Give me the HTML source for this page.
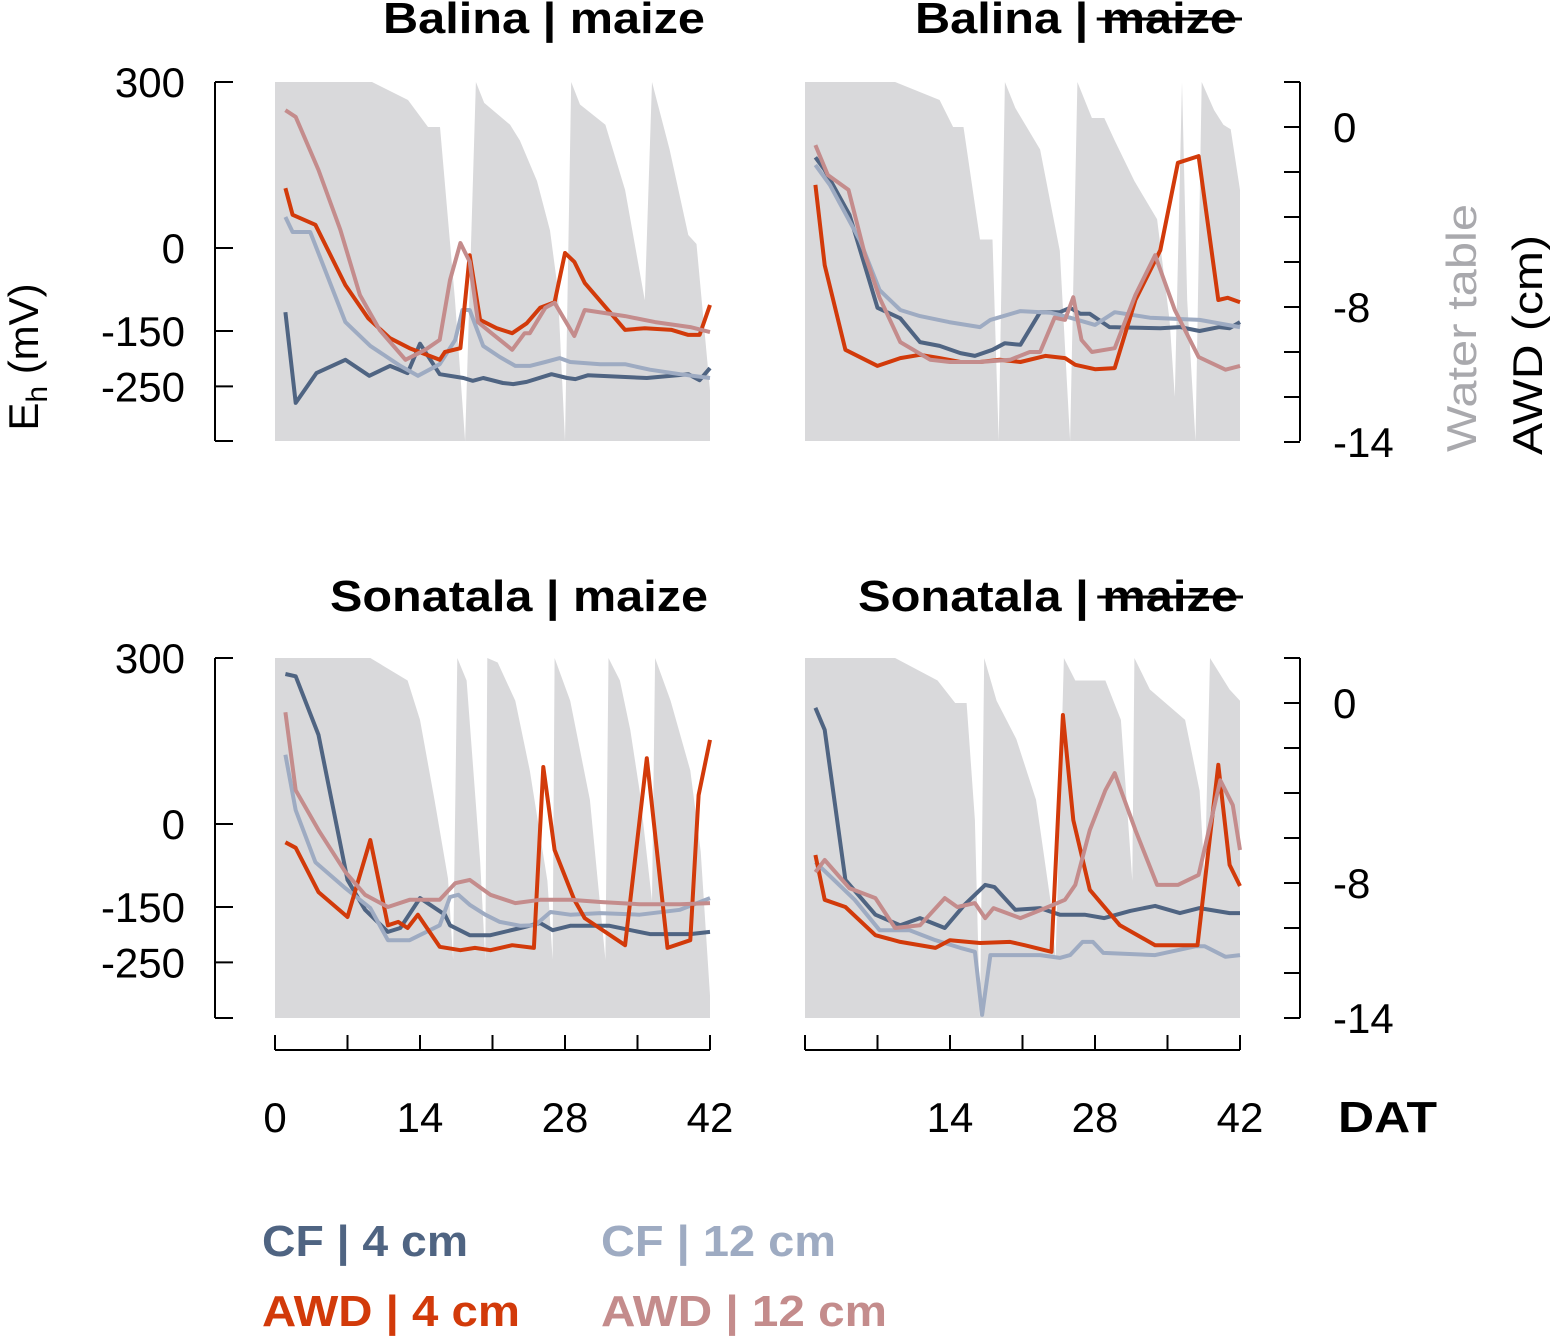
<!DOCTYPE html>
<html><head><meta charset="utf-8"><style>
html,body{margin:0;padding:0;background:#fff}
svg{display:block}
text{font-family:"Liberation Sans",Arial,sans-serif}
</style></head><body>
<svg id="c" width="1550" height="1336" viewBox="0 0 1550 1336" xmlns="http://www.w3.org/2000/svg"></svg>
<script>
// ---- data ----
const seriesNames = ["CF4","CF12","AWD4","AWD12"];
const seriesColors = {CF4:"#4f6482",CF12:"#9eabc2",AWD4:"#d23a0a",AWD12:"#c48c8c"};
const panelTitles = ["Balina | maize","Balina | maize","Sonatala | maize","Sonatala | maize"];
const yTicks = [300,0,-150,-250];
const wtTicks = [0,-8,-14];
const xTicks = [0,14,28,42];

const wtTL = [[0,2],[9.37,2],[12.84,1.2],[14.77,0],[15.93,0],[17.38,-7.7],[18.35,-14],[19.4,2],[20.2,1.07],[22.7,0.1],[23.65,-0.6],[25.3,-2.4],[26.55,-4.6],[27.3,-7.2],[28,-14],[28.6,2],[29.45,1],[31.9,0.1],[33.8,-2.8],[35.7,-7.7],[36.4,2],[38.1,-1],[39.9,-4.8],[40.7,-5.2],[42,-11.7]];
const wtTR = [[0,2],[8.7,2],[13,1.2],[14.3,0],[15.3,0],[16.9,-5],[18.1,-5],[18.7,-14],[19.3,2],[20.3,0.85],[22.7,-1],[24.6,-5.5],[25.6,-14],[26.3,2],[27.7,0.4],[28.9,0.4],[29.9,-0.6],[31.8,-2.4],[34,-4.1],[35.2,-8.6],[35.7,-12],[36.4,2],[36.9,-7.7],[37.7,-14],[38.3,2],[39.5,0.75],[40.4,0.1],[41.1,-0.1],[42,-2.8]];
const wtBL = [[0,2],[9.2,2],[12.8,1],[14,-0.75],[15.4,-4.3],[16.7,-7.8],[17.2,-11.4],[17.6,2],[18.5,1],[19.8,-7],[20.3,-11.4],[20.5,2],[21.5,1.8],[23.2,0.1],[24.6,-3],[26.3,-7.9],[26.8,-11.4],[27,2],[28.5,0.1],[30.4,-4.3],[31.9,-11.4],[32.2,2],[33.3,1],[34.3,-1.2],[35.2,-3.9],[36.4,-8.8],[36.7,2],[38.2,0.1],[40.1,-3],[41.1,-6.6],[42,-13]];
const wtBR = [[0,2],[8.7,2],[12.8,1],[14.5,0],[15.6,0],[16.4,-5.2],[16.9,-14],[17.3,2],[18.5,0.1],[20.4,-1.6],[22.3,-4.3],[23.7,-8.8],[24.2,-11.4],[25,2],[26.1,1],[29,1],[30.5,-0.75],[31.6,-7.9],[31.8,2],[33.3,0.6],[36.7,-0.75],[38.1,-3.9],[38.6,-7.9],[39.1,2],[41,0.6],[42,0.1]];

const TL_CF4 = [[1,-116],[2,-280],[4,-226],[6.8,-202],[9.1,-231],[11.1,-213],[12.8,-226],[14,-173],[15.9,-228],[18.2,-235],[19.1,-240],[20.1,-235],[22,-244],[23,-246],[24.3,-242],[26.7,-228],[28.2,-235],[29,-237],[30.2,-230],[35.9,-235],[39.9,-228],[41,-239],[42,-217]];
const TL_CF12 = [[1,56],[1.7,29],[3.4,29],[6.8,-134],[9.2,-177],[12.1,-213],[13.8,-231],[15.9,-210],[17.4,-166],[18.1,-112],[18.8,-112],[20.1,-177],[21.7,-197],[23.2,-213],[24.6,-213],[26.1,-206],[27.5,-199],[28.5,-206],[31.4,-210],[33.8,-210],[36.2,-220],[39.1,-228],[42,-235]];
const TL_AWD4 = [[1,108],[1.7,60],[3.9,42],[6.8,-67],[9,-127],[11.1,-163],[13,-181],[15.9,-202],[16.4,-188],[17.9,-181],[18.8,-13],[19.8,-130],[21.4,-145],[22.9,-154],[24.3,-136],[25.6,-108],[27,-98],[28,-9],[28.9,-25],[29.9,-63],[33.8,-148],[35.7,-145],[38.3,-148],[39.9,-157],[41,-157],[42,-103]];
const TL_AWD12 = [[1,249],[2,237],[4.2,141],[6.3,33],[8.2,-85],[10.1,-148],[12.6,-202],[14.5,-184],[15.9,-166],[16.9,-58],[17.9,9],[18.8,-25],[19.6,-134],[20.9,-154],[22.9,-184],[24.1,-154],[24.6,-154],[26.1,-108],[27,-99],[28.9,-159],[29.9,-112],[33.8,-123],[36.7,-134],[40.1,-143],[42,-152]];

const TR_CF4 = [[1,164],[1.9,141],[4.3,60],[7,-108],[9.2,-127],[11.1,-170],[13,-177],[15,-190],[16.4,-195],[18.1,-184],[19.3,-172],[20.8,-175],[22.7,-116],[24.6,-116],[25.6,-108],[26.6,-119],[27.5,-119],[29.4,-143],[34.3,-145],[36.2,-143],[38.1,-150],[40,-143],[41,-145],[42,-134]];
const TR_CF12 = [[1,150],[2.4,114],[5.3,14],[7.2,-76],[9.2,-112],[11.1,-123],[13.9,-134],[16.9,-143],[17.9,-130],[20.8,-114],[23.7,-117],[25.6,-126],[28,-139],[29.9,-116],[33.3,-126],[38.1,-130],[42,-143]];
const TR_AWD4 = [[1,114],[1.9,-31],[3.9,-184],[7,-213],[9.2,-199],[11.1,-193],[13,-199],[15,-206],[16.9,-206],[18.8,-202],[20.8,-206],[23.2,-195],[25.1,-199],[26.1,-211],[28,-219],[29.9,-217],[31.9,-94],[34.3,-4],[36,154],[38,166],[39.9,-94],[40.8,-90],[42,-98]];
const TR_AWD12 = [[1,186],[2.2,132],[4.2,105],[5.8,-13],[7.2,-90],[9.2,-170],[12.1,-202],[14,-206],[16.9,-206],[19.8,-202],[21.7,-188],[22.7,-188],[24.1,-126],[25.1,-130],[25.9,-89],[26.7,-166],[27.7,-188],[29.9,-181],[31.9,-85],[33.8,-13],[35.7,-112],[38,-197],[40.6,-220],[42,-213]];

const BL_CF4 = [[1,271],[2,267],[4.2,161],[7,-101],[8.7,-155],[10.9,-195],[12.1,-188],[14,-134],[16.4,-164],[16.9,-183],[18.8,-201],[20.8,-201],[23.7,-188],[25.6,-179],[26.8,-192],[28.5,-184],[32.3,-184],[36.2,-199],[40.1,-199],[42,-195]];
const BL_CF12 = [[1,125],[2,25],[3.9,-69],[6.8,-116],[9.2,-152],[10.9,-210],[13,-210],[15.9,-183],[16.9,-132],[17.7,-128],[18.8,-146],[20.3,-164],[21.7,-177],[23.7,-184],[25.1,-183],[26.6,-159],[28.5,-164],[31.4,-161],[35.2,-164],[39.1,-155],[42,-134]];
const BL_AWD4 = [[1,-33],[2,-43],[4.2,-123],[7,-168],[9.2,-29],[10.9,-183],[11.9,-177],[12.8,-188],[13.8,-164],[15.9,-222],[17.9,-228],[19.3,-224],[20.8,-228],[22.9,-219],[25,-224],[25.9,103],[27,-47],[28.9,-137],[29.9,-170],[33.8,-219],[35.9,119],[37.9,-224],[40.1,-210],[40.9,52],[42,152]];
const BL_AWD12 = [[1,202],[2,61],[4.3,-14],[6.8,-87],[8.7,-128],[10.9,-150],[13,-137],[15.9,-137],[17.4,-107],[18.8,-101],[20.8,-128],[23.2,-143],[25.6,-137],[28.5,-137],[31.4,-141],[35.2,-145],[39.1,-145],[42,-143]];

const BR_CF4 = [[1,210],[1.9,170],[3.9,-101],[6.8,-164],[9.2,-183],[11.1,-170],[13.5,-188],[15.4,-146],[17.4,-110],[18.3,-114],[20.3,-155],[22.7,-152],[24.6,-164],[27,-164],[28.9,-170],[31.4,-157],[33.8,-148],[36.2,-161],[38.1,-152],[41,-161],[42,-161]];
const BR_CF12 = [[1,-69],[2.4,-94],[4.8,-137],[7.2,-192],[10.1,-192],[12.6,-210],[15,-224],[16.4,-231],[17.1,-345],[17.9,-237],[19.8,-237],[22.7,-237],[24.6,-242],[25.6,-237],[26.8,-213],[27.8,-213],[28.8,-233],[33.8,-237],[37.7,-221],[38.6,-221],[40.6,-240],[42,-237]];
const BR_AWD4 = [[1,-56],[1.9,-137],[3.9,-150],[6.8,-201],[9.2,-213],[12.6,-224],[14,-210],[16.9,-215],[19.8,-213],[21.2,-219],[23.8,-231],[24.9,197],[25.9,7],[27.5,-119],[30.4,-183],[33.8,-219],[37.9,-219],[39.9,107],[41,-74],[42,-112]];
const BR_AWD12 = [[1,-87],[1.9,-65],[4.3,-116],[6.8,-134],[8.7,-188],[11.1,-183],[13.5,-134],[14.7,-150],[16.4,-143],[17.4,-170],[18.2,-152],[20.8,-170],[23.2,-152],[25.1,-137],[26.1,-110],[27.5,-11],[29,61],[29.9,92],[31.9,-11],[34,-110],[36,-110],[38,-92],[40.1,79],[41.3,34],[42,-47]];

// ---- drawing ----
const NS="http://www.w3.org/2000/svg";
const svg=document.getElementById('c');
function el(tag,attrs,parent,txt){const e=document.createElementNS(NS,tag);for(const k in attrs)e.setAttribute(k,attrs[k]);if(txt!==undefined)e.textContent=txt;(parent||svg).appendChild(e);return e;}

const panels=[
 {x0:275,top:82,bot:441,wt:wtTL,s:[TL_CF4,TL_CF12,TL_AWD4,TL_AWD12],title:panelTitles[0],strike:false,tx:383,tw:322,ty:33,name:'balina-maize'},
 {x0:805,top:82,bot:441,wt:wtTR,s:[TR_CF4,TR_CF12,TR_AWD4,TR_AWD12],title:panelTitles[1],strike:true,tx:915,tw:322,ty:33,name:'balina-no-maize'},
 {x0:275,top:658,bot:1018,wt:wtBL,s:[BL_CF4,BL_CF12,BL_AWD4,BL_AWD12],title:panelTitles[2],strike:false,tx:330,tw:378,ty:611,name:'sonatala-maize'},
 {x0:805,top:658,bot:1018,wt:wtBR,s:[BR_CF4,BR_CF12,BR_AWD4,BR_AWD12],title:panelTitles[3],strike:true,tx:858,tw:380,ty:611,name:'sonatala-no-maize'}
];
const XS=435/42;
panels.forEach((p,pi)=>{
  const g=el('g',{});
  
  
  const xf=d=>p.x0+d*XS;
  const yf=v=>p.top+166-v*(166/300);
  const wf=c=>p.top+45-c*22.5;
  let d='M'+xf(p.wt[0][0])+','+p.bot;
  p.wt.forEach(q=>{d+=' L'+xf(q[0]).toFixed(1)+','+Math.min(p.bot,wf(q[1])).toFixed(1);});
  d+=' L'+xf(p.wt[p.wt.length-1][0])+','+p.bot+' Z';
  const a=el('path',{d:d,fill:'#d9d9db'},g);
  
  
  p.s.forEach((arr,si)=>{
    const pts=arr.map(q=>xf(q[0]).toFixed(1)+','+yf(q[1]).toFixed(1)).join(' ');
    const l=el('polyline',{points:pts,fill:'none',stroke:seriesColors[seriesNames[si]],'stroke-width':4,'stroke-linejoin':'round'},g);
    
    
  });
  const t=el('text',{x:p.tx,y:p.ty,'font-size':44,'font-weight':'bold',textLength:p.tw,lengthAdjust:'spacingAndGlyphs'},g,p.title);
  
  
  if(p.strike){
    const n=p.title.length;
    const sx=t.getStartPositionOfChar(n-5).x, ex=t.getEndPositionOfChar(n-1).x;
    el('line',{x1:sx-5,x2:ex+5,y1:p.ty-14,y2:p.ty-14,stroke:'#000','stroke-width':3},g);
  }
  if(pi%2===0){
    el('line',{x1:215,x2:215,y1:p.top,y2:p.bot,stroke:'#000','stroke-width':2},g);
    el('line',{x1:215,x2:233,y1:p.bot,y2:p.bot,stroke:'#000','stroke-width':2},g);
    yTicks.forEach(v=>{
      el('line',{x1:215,x2:233,y1:yf(v),y2:yf(v),stroke:'#000','stroke-width':2},g);
      const lt=el('text',{x:185,y:yf(v)+15,'font-size':42,'text-anchor':'end'},g,String(v));
      
      
    });
  } else {
    el('line',{x1:1300,x2:1300,y1:p.top,y2:p.bot,stroke:'#000','stroke-width':2},g);
    for(let c=2;c>=-14;c-=2){el('line',{x1:1284,x2:1300,y1:wf(c),y2:wf(c),stroke:'#000','stroke-width':2},g);}
    wtTicks.forEach(c=>{
      const lt=el('text',{x:1333,y:wf(c)+15,'font-size':42},g,String(c));
      
      
    });
  }
  if(pi>=2){
    el('line',{x1:p.x0,x2:p.x0+435,y1:1050,y2:1050,stroke:'#000','stroke-width':2},g);
    for(let dd=0;dd<=42;dd+=7){el('line',{x1:xf(dd),x2:xf(dd),y1:1035,y2:1050,stroke:'#000','stroke-width':2},g);}
    xTicks.forEach(dd=>{
      if(pi===3&&dd===0)return;
      const lt=el('text',{x:xf(dd),y:1132,'font-size':42,'text-anchor':'middle'},g,String(dd));
      
      
    });
  }
});
</script>
<svg style="position:absolute;left:0;top:0" width="1550" height="1336">
 <text transform="translate(38,357) rotate(-90)" font-size="42" text-anchor="middle" font-family="Liberation Sans, sans-serif">E<tspan font-size="30" dy="9">h</tspan><tspan dy="-9"> (mV)</tspan></text>
 <text transform="translate(1476,328) rotate(-90)" font-size="42" fill="#a9a9ad" text-anchor="middle" font-family="Liberation Sans, sans-serif" textLength="248" lengthAdjust="spacingAndGlyphs">Water table</text>
 <text transform="translate(1542,345) rotate(-90)" font-size="42" text-anchor="middle" font-family="Liberation Sans, sans-serif" textLength="220" lengthAdjust="spacingAndGlyphs">AWD (cm)</text>
 <text x="1338" y="1132" font-size="44" font-weight="bold" font-family="Liberation Sans, sans-serif" textLength="99" lengthAdjust="spacingAndGlyphs">DAT</text>
 <text x="262" y="1256" font-size="44" font-weight="bold" fill="#4f6482" font-family="Liberation Sans, sans-serif" textLength="206" lengthAdjust="spacingAndGlyphs">CF | 4 cm</text>
 <text x="601" y="1256" font-size="44" font-weight="bold" fill="#9eabc2" font-family="Liberation Sans, sans-serif" textLength="235" lengthAdjust="spacingAndGlyphs">CF | 12 cm</text>
 <text x="262" y="1326" font-size="44" font-weight="bold" fill="#d23a0a" font-family="Liberation Sans, sans-serif" textLength="258" lengthAdjust="spacingAndGlyphs">AWD | 4 cm</text>
 <text x="601" y="1326" font-size="44" font-weight="bold" fill="#c48c8c" font-family="Liberation Sans, sans-serif" textLength="286" lengthAdjust="spacingAndGlyphs">AWD | 12 cm</text>
</svg>
</body></html>
